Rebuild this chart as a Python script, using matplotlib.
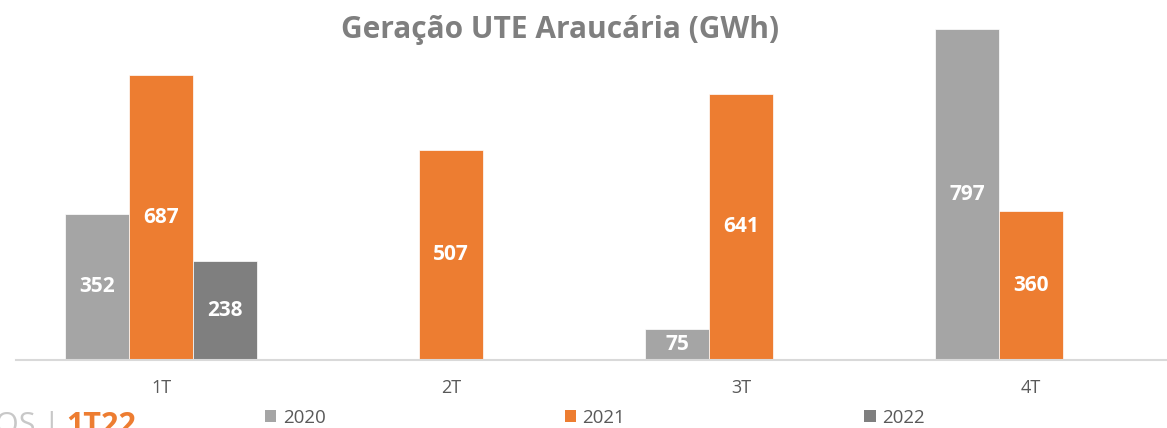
import numpy as np
import matplotlib
matplotlib.use("Agg")
import matplotlib.pyplot as plt
from matplotlib.patches import Patch

plt.rcParams['font.family'] = ['Open Sans', 'DejaVu Sans']

categories = ["1T", "2T", "3T", "4T"]
series_names = ["2020", "2021", "2022"]
values_2020 = [352, np.nan, 75, 797]
values_2021 = [687, 507, 641, 360]
values_2022 = [238, np.nan, np.nan, np.nan]
colors = ["#a5a5a5", "#ed7d31", "#7f7f7f"]

series = [values_2020, values_2021, values_2022]

fig = plt.figure(figsize=(11.67, 4.28), dpi=100)
ax = fig.add_axes([16/1167, 68/428, 1160/1167, 332/428])

x = np.arange(len(categories))
width = 0.22
for i, (vals, c) in enumerate(zip(series, colors)):
    pos = x + (i - 1) * width
    bars = ax.bar(pos, vals, width=width, color=c, edgecolor="white", linewidth=0.5, zorder=2)
    for b, v in zip(bars, vals):
        if not np.isnan(v):
            ax.text(b.get_x() + b.get_width() / 2, v / 2, f"{int(v)}",
                    ha="center", va="center", color="white",
                    fontsize=15, fontweight="bold", zorder=3)

ax.set_xlim(-0.5, 3.5)
ax.set_ylim(0, 800)
ax.set_xticks(x)
ax.set_xticklabels(categories, fontsize=13, color="#595959")
ax.tick_params(axis="x", length=0, pad=14)
ax.set_yticks([])
for s in ["top", "right", "left"]:
    ax.spines[s].set_visible(False)
ax.spines["bottom"].set_color("#d9d9d9")
ax.spines["bottom"].set_linewidth(1.5)
ax.spines["bottom"].set_zorder(4)

fig.text(560/1167, 1 - 30/428, "Geração UTE Araucária (GWh)", ha="center", va="center",
         fontsize=21.5, fontweight="bold", color="#7f7f7f")

handles = [Patch(facecolor=c, edgecolor="none") for c in colors]
fig.legend(handles, series_names, loc="center", bbox_to_anchor=(595/1167, 1 - 418/428),
           ncol=3, frameon=False, fontsize=13.5, labelcolor="#595959",
           handlelength=0.6, handleheight=0.6, handletextpad=0.35, columnspacing=12.75,
           borderpad=0, borderaxespad=0)

fig.text(-0.004, 1 - 411/428, "OS | ", ha="left", va="top", fontsize=22, color="#c8c8c8")
fig.text(66/1167, 1 - 411/428, "1T22", ha="left", va="top", fontsize=22,
         fontweight="bold", color="#ed7d31")

fig.savefig("out.png", dpi=100)
